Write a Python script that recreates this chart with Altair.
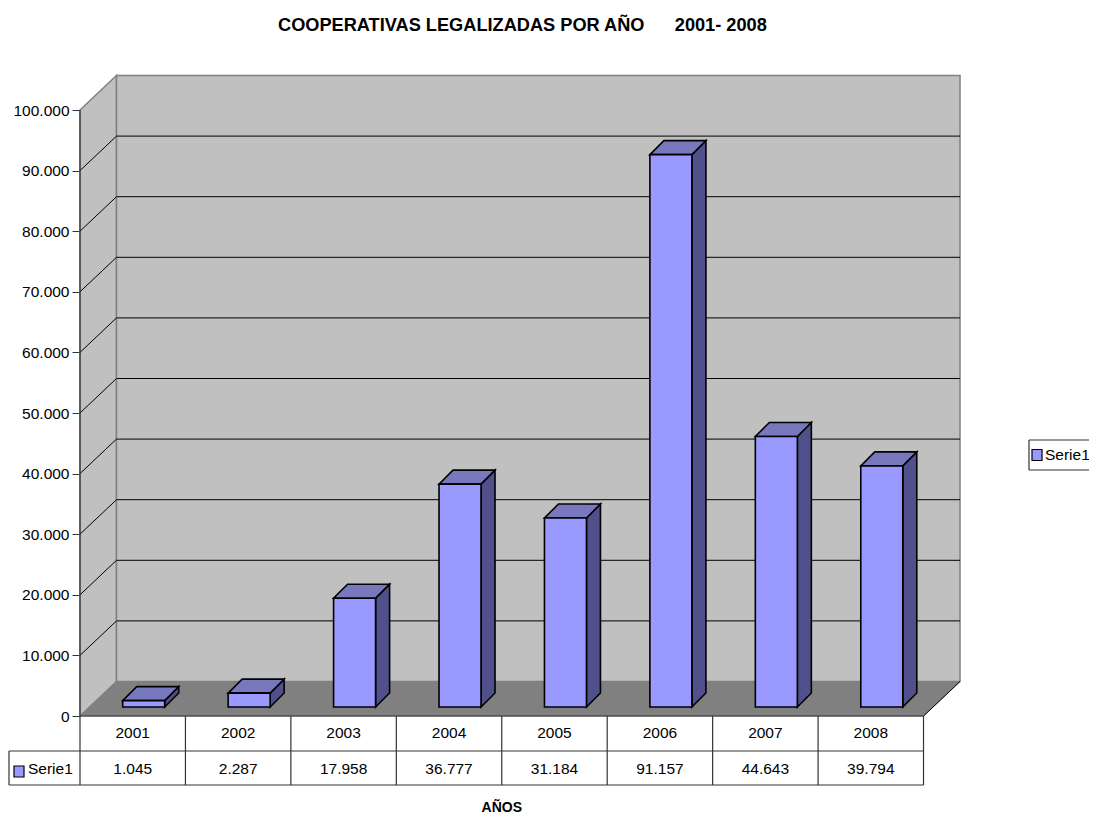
import altair as alt
import pandas as pd

YEARS = ["2001", "2002", "2003", "2004", "2005", "2006", "2007", "2008"]
VALUES = [1045, 2287, 17958, 36777, 31184, 91157, 44643, 39794]
VALUE_LABELS = ["1.045", "2.287", "17.958", "36.777", "31.184", "91.157", "44.643", "39.794"]
TICKS = [0, 10000, 20000, 30000, 40000, 50000, 60000, 70000, 80000, 90000, 100000]
TITLE = "COOPERATIVAS LEGALIZADAS POR AÑO\u00a0\u00a0\u00a0\u00a0\u00a0\u00a02001-\u00a02008"
SERIES = "Serie1"
X_TITLE = "AÑOS"

FONT = "Liberation Sans"
PAD_LEFT = 72
W, H = 1081 - PAD_LEFT, 806
PX_X = 105.44      # pixels per category
PX_Y = 0.00606     # pixels per value unit
Y0 = 716 - 8


def ux(px):  # horizontal distance in pixels, in category units
    return px / PX_X


def uy(px):  # vertical distance in pixels, in value units
    return px / PX_Y


x_scale = alt.Scale(domain=[0, W / PX_X], nice=False, zero=False)
y_scale = alt.Scale(domain=[-(H - Y0) / PX_Y, Y0 / PX_Y], nice=False, zero=False)
y_axis = alt.Axis(
    title=None,
    values=TICKS,
    domain=False,
    grid=False,
    tickSize=8,
    tickColor="#333333",
    labelFont=FONT,
    labelFontSize=15.5,
    labelColor="#000000",
    labelPadding=3,
    labelExpr="replace(format(datum.value, ','), ',', '.')",
)
X = alt.X("x:Q", scale=x_scale, axis=None)
Y = alt.Y("y:Q", scale=y_scale, axis=y_axis)
N = len(YEARS)
WALL_DX, WALL_DV = ux(36.5), uy(34.5)
BAR_OFF, BAR_W, BAR_DX, BAR_DV, BAR_BASE = ux(42.7), ux(42), ux(14), uy(14), uy(9)


def area(rows, fill, stroke=None, width=1):
    kw = dict(stroke=stroke, strokeWidth=width) if stroke else {}
    return alt.Chart(pd.DataFrame(rows)).mark_area(
        orient="vertical", fill=fill, opacity=1, **kw
    ).encode(x=X, y=Y, y2="y2:Q", detail="g:N")


def segs(rows, color, width=1):
    return alt.Chart(pd.DataFrame(rows)).mark_line(
        color=color, strokeWidth=width
    ).encode(x=X, y=Y, detail="g:N", order="o:Q")


def seg(g, x1, y1, x2, y2):
    return [dict(g=g, o=0, x=x1, y=y1), dict(g=g, o=1, x=x2, y=y2)]


# Walls and floor
left_wall = [
    dict(g="l", x=0, y=0, y2=100000),
    dict(g="l", x=WALL_DX, y=WALL_DV, y2=100000 + WALL_DV),
]
back_wall = [
    dict(g="b", x=WALL_DX, y=WALL_DV, y2=100000 + WALL_DV),
    dict(g="b", x=N + WALL_DX, y=WALL_DV, y2=100000 + WALL_DV),
]
floor = [
    dict(g="f", x=0, y=0, y2=0),
    dict(g="f", x=WALL_DX, y=0, y2=WALL_DV),
    dict(g="f", x=N, y=0, y2=WALL_DV),
    dict(g="f", x=N + WALL_DX, y=WALL_DV, y2=WALL_DV),
]

grid = []
for t in TICKS[1:-1]:
    grid += seg(f"d{t}", 0, t, WALL_DX, t + WALL_DV)
    grid += seg(f"h{t}", WALL_DX, t + WALL_DV, N + WALL_DX, t + WALL_DV)

floor_edge = seg("e", N, 0, N + WALL_DX, WALL_DV)

# Bars
fronts, sides, tops = [], [], []
for i, v in enumerate(VALUES):
    x1 = i + BAR_OFF
    x2 = x1 + BAR_W
    top = BAR_BASE + v
    fronts += [dict(g=i, x=x1, y=BAR_BASE, y2=top), dict(g=i, x=x2, y=BAR_BASE, y2=top)]
    sides += [
        dict(g=i, x=x2, y=BAR_BASE, y2=top),
        dict(g=i, x=x2 + BAR_DX, y=BAR_BASE + BAR_DV, y2=top + BAR_DV),
    ]
    tops += [
        dict(g=i, x=x1, y=top, y2=top),
        dict(g=i, x=x1 + BAR_DX, y=top, y2=top + BAR_DV),
        dict(g=i, x=x2, y=top, y2=top + BAR_DV),
        dict(g=i, x=x2 + BAR_DX, y=top + BAR_DV, y2=top + BAR_DV),
    ]

# Data table
ROW1, ROW2 = -uy(35), -uy(69)
table = seg("a", 0, 0, N, 0)
table += seg("r1", -ux(71), ROW1, N, ROW1)
table += seg("r2", -ux(71), ROW2, N, ROW2)
table += seg("v", 0, TICKS[-1], 0, ROW2)
table += seg("left", -ux(71), ROW1, -ux(71), ROW2)
for i in range(1, N + 1):
    table += seg(f"c{i}", i, 0, i, ROW2)


def text(rows, size=15.5, **kw):
    return alt.Chart(pd.DataFrame(rows)).mark_text(
        font=FONT, fontSize=size, color="#000000", **kw
    ).encode(x=X, y=Y, text="t:N")


year_text = text([dict(x=i + 0.5, y=-uy(16.5), t=t) for i, t in enumerate(YEARS)])
value_text = text([dict(x=i + 0.5, y=-uy(52.5), t=t) for i, t in enumerate(VALUE_LABELS)])
series_text = text([
    dict(x=-ux(52), y=-uy(53), t=SERIES),
    dict(x=ux(965), y=uy(716 - 455), t=SERIES),
], align="left")
x_title = text([dict(x=N / 2, y=-uy(92), t=X_TITLE)], size=14, fontWeight="bold")

# Legend frame and keys
legend_frame = seg("t", ux(949), uy(716 - 440), ux(1020), uy(716 - 440))
legend_frame += seg("bo", ux(949), uy(716 - 470), ux(1020), uy(716 - 470))
legend_frame += seg("le", ux(949), uy(716 - 440), ux(949), uy(716 - 470))
keys = []
for g, (kx, ky) in enumerate([(-ux(66), -uy(50)), (ux(952), uy(716 - 449.5))]):
    keys += [
        dict(g=g, x=kx, y=ky, y2=ky - uy(11)),
        dict(g=g, x=kx + ux(10), y=ky, y2=ky - uy(11)),
    ]

chart = alt.layer(
    area(left_wall, "#C0C0C0", "#808080", 1.5),
    area(back_wall, "#C0C0C0", "#808080", 1.5),
    area(floor, "#808080", "#808080"),
    segs(grid, "#000000"),
    segs(floor_edge, "#000000"),
    segs(table, "#333333", 1.2),
    segs(legend_frame, "#333333", 1.2),
    area(keys, "#9999FF", "#000000", 1.2),
    area(sides, "#50508C", "#000000", 1.6),
    area(tops, "#7878BE", "#000000", 1.6),
    area(fronts, "#9999FF", "#000000", 1.6),
    year_text,
    value_text,
    series_text,
    x_title,
).properties(
    width=W,
    height=H,
    padding={"left": PAD_LEFT, "top": 0, "right": 0, "bottom": 0},
    background="#FFFFFF",
    autosize=alt.AutoSizeParams(type="none"),
    title=alt.TitleParams(
        text=TITLE,
        anchor="start",
        frame="group",
        dx=198,
        offset=-27,
        font=FONT,
        fontSize=18.2,
        fontWeight="bold",
        color="#000000",
    ),
).configure_view(stroke=None)

chart.save("out.html", embed_options={"renderer": "svg", "actions": False})
